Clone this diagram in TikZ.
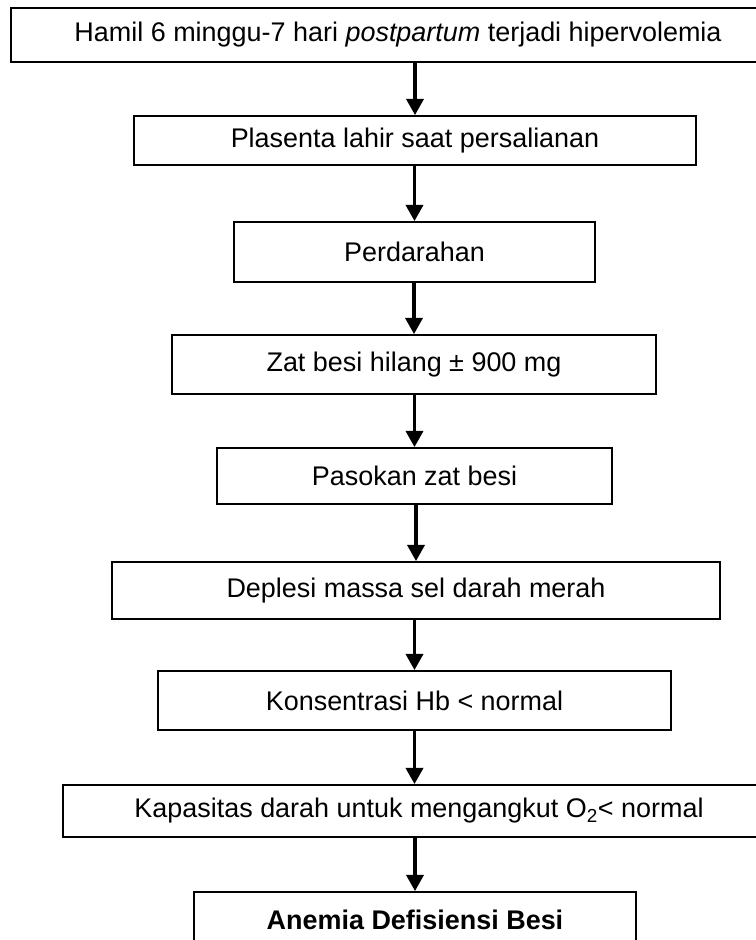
\documentclass[tikz,border=0pt]{standalone}
\usepackage{fontspec}
\setmainfont{Liberation Sans}
\usetikzlibrary{arrows.meta}

\tikzset{
    box/.style={draw, line width=1.4pt, inner sep=0pt, align=center,
        font=\fontsize{23}{27}\selectfont},
    flow/.style={line width=3.4pt, -{Triangle[width=14.5pt, length=14pt]}}
}

\begin{document}
\begin{tikzpicture}[x=0.03cm, y=-0.03cm]
        \useasboundingbox (0, 0) rectangle (756, 940);

        % Boxes (top to bottom)
        \node[box, minimum width=774*0.03cm, minimum height=54*0.03cm] (b1) at (398, 35)
            {Hamil 6 minggu-7 hari \textit{postpartum} terjadi hipervolemia};
        \node[box, minimum width=562*0.03cm, minimum height=49*0.03cm] (b2) at (415, 140.5)
            {Plasenta lahir saat persalianan};
        \node[box, minimum width=361*0.03cm, minimum height=60*0.03cm] (b3) at (414.5, 252)
            {Perdarahan};
        \node[box, minimum width=484*0.03cm, minimum height=59*0.03cm] (b4) at (414, 364.5)
            {Zat besi hilang ± 900 mg};
        \node[box, minimum width=395*0.03cm, minimum height=56*0.03cm] (b5) at (414.5, 476)
            {Pasokan zat besi};
        \node[box, minimum width=608*0.03cm, minimum height=57*0.03cm] (b6) at (416, 590.5)
            {Deplesi massa sel darah merah};
        \node[box, minimum width=513*0.03cm, minimum height=59*0.03cm] (b7) at (414.5, 700.5)
            {Konsentrasi Hb < normal};
        \node[box, minimum width=712*0.03cm, minimum height=52*0.03cm] (b8) at (419, 811)
            {Kapasitas darah untuk mengangkut O\textsubscript{2}< normal};
        \node[box, minimum width=442*0.03cm, minimum height=55*0.03cm] (b9) at (415, 919.5)
            {\textbf{Anemia Defisiensi Besi}};

        % Arrows between boxes
        \foreach \a/\b in {b1/b2, b2/b3, b3/b4, b4/b5, b5/b6, b6/b7, b8/b9} {
            \draw[flow] (\b.north |- \a.south) -- (\b.north);
        }
        \draw[flow] (b7.south) -- (b7.south |- b8.north);
    \end{tikzpicture}
\end{document}
